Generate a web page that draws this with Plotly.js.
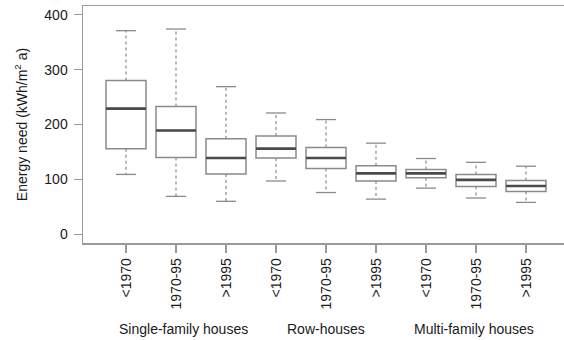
<!DOCTYPE html>
<html>
<head>
<meta charset="utf-8">
<script src="https://cdn.plot.ly/plotly-3.0.1.min.js"></script>
<style>
html,body{margin:0;padding:0;background:#fff;overflow:hidden;}
#chart{width:564px;height:340px;}
</style>
</head>
<body>
<div id="chart"></div>
<script>
// Data
const categories = ['<1970', '1970-95', '>1995', '<1970', '1970-95', '>1995', '<1970', '1970-95', '>1995'];
const groupLabels = ['Single-family houses', 'Row-houses', 'Multi-family houses'];
const lowerWhisker = [109, 69, 60, 97, 76, 64, 84, 66, 58];
const q1Values     = [156, 140, 110, 139, 120, 97, 103, 87, 78];
const medianValues = [229, 189, 139, 156, 139, 111, 111, 99, 88];
const q3Values     = [280, 233, 174, 179, 158, 125, 118, 109, 98];
const upperWhisker = [371, 374, 269, 221, 209, 166, 138, 131, 124];
const yTicks = [0, 100, 200, 300, 400];

// Styles
const FONT = 'Liberation Sans, Arial, Helvetica, sans-serif';
const BOX_COLOR = '#8a8a8a';
const MED_COLOR = '#4a4a4a';
const AXIS_COLOR = '#9a9a9a';
const TEXT_COLOR = '#1a1a1a';
const HALF_BOX = 0.4;
const HALF_CAP = 0.2;

const positions = categories.map((_, i) => i + 1);

function segs(fn) {
  const xs = [], ys = [];
  positions.forEach((p, i) => {
    fn(p, i).forEach(s => { xs.push(s[0][0], s[1][0], null); ys.push(s[0][1], s[1][1], null); });
  });
  return {x: xs, y: ys};
}

const whisk = segs((p, i) => [
  [[p, q3Values[i]], [p, upperWhisker[i]]],
  [[p, q1Values[i]], [p, lowerWhisker[i]]]
]);
const caps = segs((p, i) => [
  [[p - HALF_CAP, upperWhisker[i]], [p + HALF_CAP, upperWhisker[i]]],
  [[p - HALF_CAP, lowerWhisker[i]], [p + HALF_CAP, lowerWhisker[i]]]
]);
const meds = segs((p, i) => [
  [[p - HALF_BOX, medianValues[i]], [p + HALF_BOX, medianValues[i]]]
]);

const traces = [
  {type: 'scatter', mode: 'lines', x: whisk.x, y: whisk.y, hoverinfo: 'skip',
   line: {color: BOX_COLOR, width: 1.2, dash: 'dot'}, showlegend: false},
  {type: 'box', x: positions, q1: q1Values, median: medianValues, q3: q3Values,
   lowerfence: q1Values, upperfence: q3Values, width: 2 * HALF_BOX, whiskerwidth: 0,
   boxpoints: false, fillcolor: '#ffffff', line: {color: BOX_COLOR, width: 1.5},
   hoverinfo: 'skip', showlegend: false},
  {type: 'scatter', mode: 'lines', x: meds.x, y: meds.y, hoverinfo: 'skip',
   line: {color: MED_COLOR, width: 2.6}, showlegend: false},
  {type: 'scatter', mode: 'lines', x: caps.x, y: caps.y, hoverinfo: 'skip',
   line: {color: BOX_COLOR, width: 1.3}, showlegend: false}
];

const annotations = groupLabels.map((t, g) => ({
  text: t, xref: 'x', yref: 'paper', x: [2.15, 5, 7.95][g], y: -0.363,
  xanchor: 'center', yanchor: 'middle', showarrow: false,
  font: {family: FONT, size: 14, color: TEXT_COLOR}
}));

const layout = {
  width: 564, height: 340,
  margin: {l: 83, r: 0, t: 6, b: 97},
  paper_bgcolor: '#fff', plot_bgcolor: '#fff',
  font: {family: FONT, size: 14, color: TEXT_COLOR},
  showlegend: false,
  xaxis: {
    type: 'linear', range: [0.14, 9.76],
    tickmode: 'array', tickvals: positions, ticktext: categories, tickangle: -90,
    ticks: 'outside', ticklen: 8, tickwidth: 1.3, tickcolor: AXIS_COLOR,
    showline: true, linecolor: AXIS_COLOR, linewidth: 1.5, mirror: true,
    showgrid: false, zeroline: false, automargin: false,
    tickfont: {family: FONT, size: 14, color: TEXT_COLOR}
  },
  yaxis: {
    range: [-16, 416], tickmode: 'array', tickvals: yTicks,
    ticks: 'outside', ticklen: 8, tickwidth: 1.3, tickcolor: AXIS_COLOR,
    showline: true, linecolor: AXIS_COLOR, linewidth: 1.5, mirror: false,
    showgrid: false, zeroline: false, automargin: false, ticklabelstandoff: 3,
    tickfont: {family: FONT, size: 14, color: TEXT_COLOR},
    title: {text: 'Energy need (kWh/m<sup>2</sup> a)', font: {family: FONT, size: 14, color: TEXT_COLOR}, standoff: 13}
  },
  annotations: annotations
};

Plotly.newPlot('chart', traces, layout, {staticPlot: true, displayModeBar: false});
</script>
</body>
</html>
